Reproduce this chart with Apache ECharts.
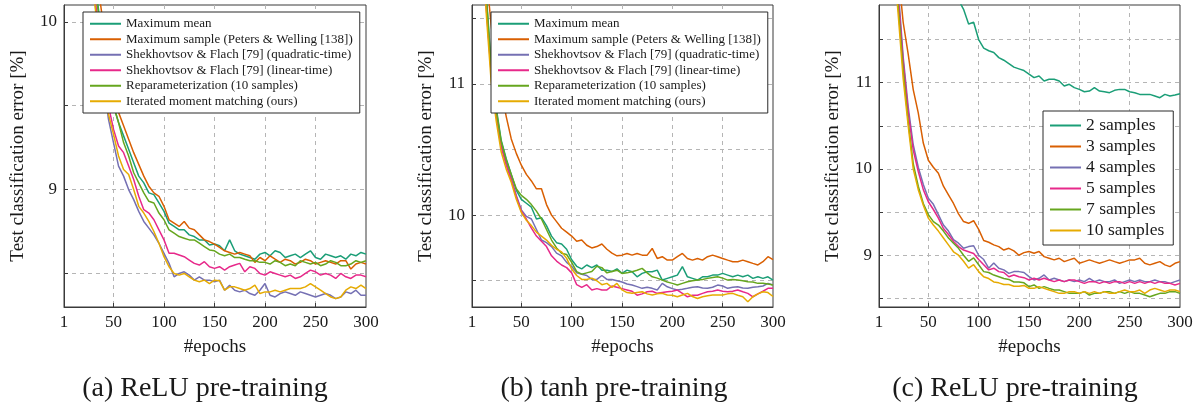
<!DOCTYPE html>
<html><head><meta charset="utf-8">
<script src="https://cdn.jsdelivr.net/npm/echarts@6/dist/echarts.min.js"></script>
<style>html,body{margin:0;padding:0;background:#fff}#c{width:1196px;height:407px}</style>
</head><body><div id="c"></div>
<script>
const epochs = [1,5,10,15,20,25,30,35,40,45,50,55,60,65,70,75,80,85,90,95,100,105,110,115,120,125,130,135,140,145,150,155,160,165,170,175,180,185,190,195,200,205,210,215,220,225,230,235,240,245,250,255,260,265,270,275,280,285,290,295,300];

const namesAB = ['Maximum mean', 'Maximum sample (Peters & Welling [138])', 'Shekhovtsov & Flach [79] (quadratic-time)', 'Shekhovtsov & Flach [79] (linear-time)', 'Reparameterization (10 samples)', 'Iterated moment matching (ours)'];
const namesC = ['2 samples', '3 samples', '4 samples', '5 samples', '7 samples', '10 samples'];
const xTickLabels = [1, 50, 100, 150, 200, 250, 300];
const xGridValues = [50, 100, 150, 200, 250];
const yLabelsA = [9, 10], yGridA = [8.5, 9, 9.5, 10];
const yLabelsB = [10, 11], yGridB = [9.5, 10, 10.5, 11, 11.5];
const yLabelsC = [9, 10, 11], yGridC = [8.5, 9, 9.5, 10, 10.5, 11, 11.5];
const captions = ['(a) ReLU pre-training', '(b) tanh pre-training', '(c) ReLU pre-training'];

// Panel (a) ReLU pre-training
const a_maxMean = [14.8,13.9,12.9,12.1,11.4,10.85,10.38,10.08,9.85,9.65,9.50,9.40,9.32,9.24,9.16,9.08,9.04,8.98,8.97,8.92,8.87,8.80,8.78,8.76,8.76,8.73,8.72,8.70,8.70,8.67,8.675,
  8.665,8.635,8.70,8.635,8.615,8.605,8.595,8.585,8.615,8.625,8.605,8.635,8.625,8.595,8.605,8.615,8.595,8.615,8.635,8.595,8.585,8.615,8.605,8.595,8.605,8.585,8.615,8.605,8.625,8.615];
const a_maxSample = [15,14.1,13.1,12.3,11.6,11.0,10.5,10.2,9.98,9.75,9.56,9.46,9.38,9.30,9.22,9.15,9.08,9.02,8.98,8.96,8.90,8.82,8.80,8.78,8.81,8.77,8.76,8.73,8.70,8.69,8.675,
  8.655,8.635,8.625,8.615,8.625,8.615,8.605,8.566,8.595,8.576,8.605,8.585,8.566,8.585,8.576,8.556,8.566,8.585,8.576,8.556,8.566,8.576,8.566,8.556,8.576,8.576,8.526,8.556,8.566,8.556];
const a_quad = [14.4,13.5,12.5,11.75,11.1,10.6,10.22,9.92,9.65,9.42,9.28,9.14,9.08,9.00,8.94,8.87,8.81,8.77,8.73,8.68,8.62,8.56,8.48,8.50,8.51,8.49,8.46,8.48,8.46,8.46,8.45,
  8.46,8.40,8.43,8.40,8.39,8.40,8.38,8.37,8.40,8.44,8.37,8.36,8.38,8.39,8.38,8.37,8.39,8.38,8.37,8.36,8.37,8.38,8.37,8.35,8.36,8.39,8.38,8.40,8.37,8.37];
const a_linear = [14.6,13.7,12.7,11.9,11.2,10.65,10.25,9.95,9.70,9.50,9.36,9.26,9.22,9.14,9.06,8.96,8.88,8.86,8.82,8.76,8.70,8.62,8.62,8.61,8.60,8.58,8.56,8.55,8.57,8.54,8.53,
  8.54,8.52,8.54,8.55,8.56,8.51,8.54,8.53,8.50,8.49,8.51,8.50,8.49,8.48,8.49,8.47,8.48,8.50,8.52,8.51,8.49,8.50,8.49,8.47,8.50,8.48,8.47,8.49,8.49,8.48];
const a_reparam = [14.7,13.8,12.8,12.0,11.35,10.8,10.33,10.05,9.83,9.63,9.50,9.40,9.28,9.20,9.10,9.04,8.98,8.93,8.92,8.86,8.82,8.76,8.74,8.72,8.71,8.70,8.70,8.68,8.66,8.64,8.635,
  8.615,8.605,8.615,8.595,8.595,8.585,8.576,8.576,8.566,8.566,8.556,8.576,8.566,8.546,8.556,8.546,8.576,8.566,8.556,8.566,8.546,8.556,8.576,8.566,8.546,8.546,8.556,8.576,8.566,8.576];
const a_ours = [14.5,13.6,12.6,11.8,11.1,10.6,10.2,9.9,9.65,9.45,9.33,9.20,9.12,9.09,9.00,8.90,8.86,8.81,8.75,8.68,8.60,8.54,8.50,8.49,8.50,8.48,8.46,8.45,8.46,8.44,8.46,
  8.456,8.40,8.42,8.42,8.41,8.40,8.41,8.43,8.38,8.39,8.39,8.40,8.39,8.40,8.41,8.41,8.41,8.42,8.44,8.42,8.40,8.38,8.36,8.35,8.36,8.40,8.42,8.41,8.43,8.41];

// Panel (b) tanh pre-training
const b_maxMean = [15.5,14,12.6,11.7,11.15,10.82,10.57,10.43,10.31,10.19,10.12,10.09,10.06,9.97,9.98,9.92,9.84,9.79,9.78,9.74,9.66,9.61,9.59,9.62,9.60,9.62,9.58,9.58,9.57,9.59,9.556,
  9.581,9.569,9.530,9.556,9.569,9.569,9.581,9.505,9.518,9.530,9.543,9.607,9.530,9.518,9.505,9.530,9.530,9.543,9.543,9.556,9.543,9.530,9.543,9.530,9.543,9.518,9.530,9.518,9.530,9.505];
const b_maxSample = [16,14.5,12.9,11.85,11.45,11.15,10.95,10.75,10.58,10.47,10.38,10.31,10.26,10.20,10.20,10.08,10.00,9.95,9.90,9.87,9.84,9.80,9.81,9.77,9.75,9.76,9.78,9.74,9.71,9.69,9.695,
  9.708,9.695,9.708,9.695,9.695,9.746,9.67,9.683,9.657,9.657,9.683,9.708,9.67,9.657,9.67,9.657,9.683,9.695,9.683,9.67,9.657,9.645,9.645,9.657,9.645,9.632,9.62,9.645,9.683,9.66];
const b_quad = [15.3,13.8,12.5,11.62,11.1,10.78,10.53,10.40,10.28,10.15,10.04,9.99,9.97,9.89,9.81,9.79,9.76,9.71,9.69,9.64,9.61,9.56,9.55,9.54,9.51,9.51,9.54,9.51,9.51,9.50,9.49,
  9.475,9.467,9.455,9.442,9.45,9.442,9.43,9.48,9.454,9.44,9.429,9.435,9.442,9.45,9.454,9.445,9.442,9.45,9.467,9.46,9.442,9.45,9.454,9.445,9.442,9.45,9.454,9.46,9.48,9.467];
const b_linear = [15.2,13.7,12.45,11.6,11.08,10.76,10.52,10.38,10.27,10.14,10.03,9.97,9.90,9.84,9.80,9.76,9.69,9.65,9.62,9.60,9.56,9.47,9.45,9.47,9.43,9.44,9.43,9.43,9.46,9.45,9.44,
  9.43,9.42,9.39,9.40,9.416,9.42,9.404,9.41,9.416,9.42,9.429,9.404,9.378,9.39,9.39,9.404,9.416,9.42,9.429,9.42,9.416,9.42,9.429,9.416,9.404,9.378,9.40,9.42,9.442,9.442];
const b_reparam = [15.4,13.9,12.55,11.68,11.13,10.80,10.56,10.42,10.31,10.20,10.15,10.12,10.08,10.03,9.97,9.89,9.81,9.75,9.71,9.70,9.64,9.57,9.55,9.56,9.57,9.61,9.60,9.56,9.57,9.58,9.556,
  9.56,9.569,9.58,9.594,9.56,9.53,9.52,9.505,9.49,9.48,9.467,9.48,9.492,9.50,9.505,9.51,9.518,9.525,9.53,9.52,9.505,9.51,9.505,9.50,9.492,9.49,9.48,9.48,9.475,9.467];
const b_ours = [15.1,13.6,12.4,11.55,11.02,10.72,10.48,10.35,10.25,10.12,10.02,9.96,9.92,9.87,9.84,9.81,9.77,9.74,9.72,9.67,9.59,9.54,9.51,9.51,9.52,9.50,9.47,9.48,9.45,9.48,9.43,
  9.41,9.404,9.41,9.416,9.40,9.391,9.40,9.404,9.391,9.39,9.378,9.391,9.404,9.38,9.365,9.378,9.385,9.391,9.391,9.391,9.40,9.404,9.39,9.378,9.34,9.378,9.40,9.416,9.41,9.38];

// Panel (c) ReLU pre-training, number of samples
const c_s2 = [20,18.5,17,16,15.2,14.6,14.1,13.7,13.4,13.1,12.9,12.7,12.5,12.35,12.2,12.08,11.96,11.85,11.68,11.70,11.50,11.40,11.37,11.35,11.29,11.26,11.22,11.18,11.16,11.14,11.10,
  11.058,11.078,11.019,11.039,11.039,11.019,10.961,10.981,10.942,10.922,10.895,10.903,10.942,10.903,10.895,10.884,10.911,10.922,10.922,10.895,10.884,10.864,10.864,10.864,10.845,10.826,10.864,10.845,10.857,10.872];
const c_s3 = [17,15.8,14.6,13.5,12.3,11.7,11.33,10.92,10.65,10.30,10.10,10.02,9.95,9.80,9.70,9.60,9.48,9.39,9.37,9.40,9.30,9.17,9.15,9.12,9.10,9.06,9.08,9.05,9.00,9.03,9.043,
  9.023,9.043,8.984,8.965,8.946,8.965,8.926,8.946,8.965,8.907,8.926,8.946,8.926,8.907,8.926,8.946,8.926,8.907,8.926,8.946,8.946,8.965,8.907,8.888,8.907,8.926,8.888,8.868,8.907,8.926];
const c_s4 = [17.5,16.2,14.8,12.9,12.1,11.3,10.72,10.28,10.02,9.82,9.66,9.59,9.47,9.35,9.28,9.18,9.14,9.08,9.10,9.11,9.00,8.95,8.85,8.91,8.85,8.83,8.79,8.81,8.81,8.80,8.752,
  8.713,8.733,8.771,8.713,8.733,8.713,8.694,8.713,8.694,8.713,8.694,8.733,8.694,8.713,8.694,8.694,8.713,8.674,8.694,8.713,8.694,8.713,8.694,8.694,8.713,8.694,8.694,8.674,8.694,8.713];
const c_s5 = [17.4,16.1,14.7,12.8,12.0,11.25,10.66,10.22,9.97,9.76,9.62,9.53,9.43,9.31,9.24,9.16,9.10,9.06,9.04,9.02,8.95,8.89,8.83,8.85,8.81,8.80,8.75,8.77,8.75,8.74,8.713,
  8.733,8.713,8.733,8.713,8.694,8.713,8.694,8.713,8.713,8.694,8.674,8.694,8.694,8.674,8.694,8.674,8.694,8.694,8.674,8.694,8.674,8.694,8.674,8.694,8.674,8.694,8.674,8.674,8.655,8.674];
const c_s7 = [17.2,15.9,14.5,12.6,11.9,11.15,10.55,10.06,9.80,9.60,9.47,9.39,9.35,9.28,9.20,9.14,9.08,9.00,8.93,8.97,8.89,8.81,8.80,8.77,8.75,8.73,8.72,8.69,8.69,8.68,8.636,
  8.655,8.616,8.636,8.616,8.597,8.597,8.578,8.558,8.558,8.558,8.578,8.539,8.558,8.558,8.578,8.578,8.558,8.578,8.558,8.578,8.558,8.558,8.539,8.519,8.539,8.558,8.558,8.578,8.578,8.558];
const c_s10 = [17.0,15.7,14.3,12.5,11.8,11.05,10.5,10.0,9.76,9.58,9.43,9.35,9.28,9.20,9.12,9.04,9.00,8.93,8.85,8.89,8.81,8.75,8.73,8.69,8.68,8.66,8.66,8.64,8.64,8.65,8.616,
  8.616,8.636,8.616,8.597,8.578,8.558,8.558,8.578,8.578,8.558,8.578,8.558,8.578,8.558,8.578,8.558,8.558,8.578,8.597,8.578,8.578,8.597,8.558,8.597,8.616,8.597,8.578,8.597,8.597,8.578];

const colors = ['#1b9e77', '#d95f02', '#7570b3', '#e7298a', '#66a61e', '#e6ab02'];
const panelA = [a_maxMean, a_maxSample, a_quad, a_linear, a_reparam, a_ours];
const panelB = [b_maxMean, b_maxSample, b_quad, b_linear, b_reparam, b_ours];
const panelC = [c_s2, c_s3, c_s4, c_s5, c_s7, c_s10];

const FONT = 'Liberation Serif';
const TXT = '#1a1a1a';
const grids = [
  {left: 64, top: 5, width: 302, height: 302},
  {left: 472, top: 5, width: 301, height: 302},
  {left: 879, top: 5, width: 301, height: 302}
].map(g => Object.assign({show: true, borderColor: '#3a3a3a', borderWidth: 1, backgroundColor: 'transparent', containLabel: false}, g));

const splitDashed = {show: true, lineStyle: {color: '#b5b5b5', type: [4, 4], width: 1}};

function xAxisFor(i) {
  return {
    type: 'value', gridIndex: i, min: 1, max: 300,
    axisLine: {show: true, onZero: false, lineStyle: {color: '#3a3a3a'}},
    axisTick: {show: true, inside: true, length: 4, customValues: xGridValues, lineStyle: {color: '#3a3a3a'}},
    axisLabel: {customValues: xTickLabels, fontFamily: FONT, fontSize: 17, color: TXT, margin: 7, showMinLabel: true, showMaxLabel: true},
    splitLine: splitDashed,
    name: '#epochs', nameLocation: 'middle', nameGap: 31,
    nameTextStyle: {fontFamily: FONT, fontSize: 19, color: TXT}
  };
}
function yAxisFor(i, min, max, labels, grid) {
  return {
    type: 'value', gridIndex: i, min: min, max: max,
    axisLine: {show: true, lineStyle: {color: '#3a3a3a'}},
    axisTick: {show: true, inside: true, length: 4, customValues: grid, lineStyle: {color: '#3a3a3a'}},
    axisLabel: {customValues: labels, fontFamily: FONT, fontSize: 17, color: TXT, margin: 7},
    splitLine: splitDashed,
    name: 'Test classification error [%]', nameLocation: 'middle', nameRotate: 90, nameGap: 36,
    nameTextStyle: {fontFamily: FONT, fontSize: 19, color: TXT}
  };
}

const series = [];
function addPanel(values, names, gi) {
  values.forEach((vals, k) => {
    series.push({
      type: 'line', name: names[k], xAxisIndex: gi, yAxisIndex: gi,
      data: epochs.map((e, j) => [e, vals[j]]),
      showSymbol: false, symbol: 'none', clip: true, animation: false,
      lineStyle: {color: colors[k], width: 1.5},
      itemStyle: {color: colors[k]}
    });
  });
}
addPanel(panelA, namesAB, 0);
addPanel(panelB, namesAB, 1);
addPanel(panelC, namesC, 2);

const legendBase = {
  orient: 'vertical', icon: 'rect', itemWidth: 31, itemHeight: 2, itemGap: 0,
  borderColor: '#2a2a2a', borderWidth: 1, backgroundColor: '#ffffff', selectedMode: false, z: 10
};
const legends = [
  Object.assign({}, legendBase, {left: 83, top: 12, data: namesAB, padding: [4, 7, 4, 7],
    textStyle: {fontFamily: FONT, fontSize: 13, color: TXT, lineHeight: 15.5}}),
  Object.assign({}, legendBase, {left: 491, top: 12, data: namesAB, padding: [4, 7, 4, 7],
    textStyle: {fontFamily: FONT, fontSize: 13, color: TXT, lineHeight: 15.5}}),
  Object.assign({}, legendBase, {left: 1043, top: 111, data: namesC, padding: [4, 9, 4, 7],
    textStyle: {fontFamily: FONT, fontSize: 17.5, color: TXT, lineHeight: 21}})
];

const centers = [205, 614, 1015];
const graphic = captions.map((t, i) => ({
  type: 'text',
  style: {text: t, x: centers[i], y: 389, textAlign: 'center', textVerticalAlign: 'middle',
    font: '28px "Liberation Serif"', fill: TXT}
}));

const chart = echarts.init(document.getElementById('c'), null, {renderer: 'canvas'});
chart.setOption({
  animation: false,
  backgroundColor: '#ffffff',
  grid: grids,
  xAxis: [0, 1, 2].map(xAxisFor),
  yAxis: [
    yAxisFor(0, 8.3, 10.1, yLabelsA, yGridA),
    yAxisFor(1, 9.3, 11.6, yLabelsB, yGridB),
    yAxisFor(2, 8.4, 11.9, yLabelsC, yGridC)
  ],
  legend: legends,
  series: series,
  graphic: graphic
});
</script>
</body></html>
